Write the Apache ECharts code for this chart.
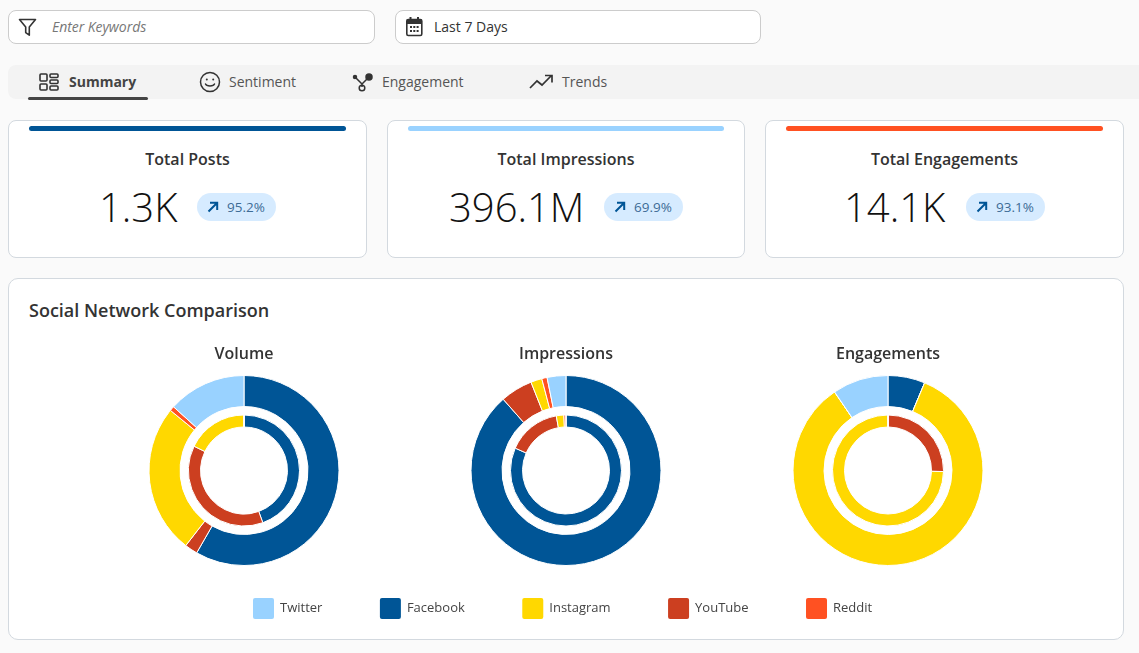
<!DOCTYPE html>
<html>
<head>
<meta charset="utf-8">
<script src="https://cdn.jsdelivr.net/npm/echarts@6/dist/echarts.min.js"></script>
<style>
  html, body { margin: 0; padding: 0; }
  body { width: 1139px; height: 653px; overflow: hidden; background: #fafafa; font-family: "Open Sans", sans-serif; color: #333; position: relative; }
  .abs { position: absolute; box-sizing: border-box; }
  .input { top: 10px; height: 34px; background: #fff; border: 1px solid #ccc; border-radius: 8px; }
  .tabs { left: 8px; top: 65px; width: 1131px; height: 34px; background: #f3f3f3; border-radius: 8px 0 0 8px; }
  .tab { top: 73px; font-size: 14px; line-height: 18px; color: #555; white-space: nowrap; }
  .card { top: 120px; height: 138px; background: #fff; border: 1px solid #d3d9df; border-radius: 8px; }
  .bar { top: 126px; height: 5px; border-radius: 3px; }
  .card-title { top: 149px; font-size: 16px; font-weight: 600; line-height: 20px; color: #333; text-align: center; white-space: nowrap; }
  .big { top: 179px; font-size: 40px; font-weight: 300; line-height: 56px; color: #111; white-space: nowrap; }
  .pill { top: 193px; height: 28px; width: 79px; background: #d6ebff; border-radius: 14px; font-size: 13.5px; line-height: 28px; color: #3d6c96; padding-left: 30px; }
  .pill svg { position: absolute; left: 9px; top: 7px; }
  .panel { left: 8px; top: 278px; width: 1116px; height: 362px; background: #fff; border: 1px solid #d3d9df; border-radius: 10px; }
  .panel-title { left: 29px; top: 298px; font-size: 18px; font-weight: 600; line-height: 25px; color: #333; }
  #chart { position: absolute; left: 0; top: 0; width: 1139px; height: 653px; }
</style>
</head>
<body>
<div class="abs input" style="left:8px;width:367px"></div>
<svg class="abs" style="left:18px;top:18px" width="20" height="19" viewBox="0 0 20 19" fill="none" stroke="#333" stroke-width="1.6" stroke-linejoin="round"><path d="M1.5 1.5h16l-6.2 7.4v8.3l-3.6-2.6V8.900z"/></svg>
<div class="abs" style="left:52px;top:18px;font-size:14px;line-height:18px;font-style:italic;color:#777;letter-spacing:-0.05px">Enter Keywords</div>
<div class="abs input" style="left:395px;width:366px"></div>
<svg class="abs" style="left:405px;top:16px" width="19" height="21" viewBox="0 0 19 21"><rect x="1.800" y="3.500" width="15" height="16" rx="1.500" fill="none" stroke="#333" stroke-width="1.600"/><rect x="1.800" y="3.500" width="15" height="4.500" fill="#333"/><rect x="4.500" y="1" width="2" height="4" fill="#333"/><rect x="12" y="1" width="2" height="4" fill="#333"/><g fill="#333"><rect x="5" y="10" width="2" height="2"/><rect x="8.300" y="10" width="2" height="2"/><rect x="11.600" y="10" width="2" height="2"/><rect x="5" y="14" width="2" height="2"/><rect x="8.300" y="14" width="2" height="2"/><rect x="11.600" y="14" width="2" height="2"/></g></svg>
<div class="abs" style="left:434px;top:18px;font-size:14px;line-height:18px;color:#333">Last 7 Days</div>

<div class="abs tabs"></div>
<svg class="abs" style="left:38px;top:72px" width="22" height="20" viewBox="0 0 22 20" fill="none" stroke="#333" stroke-width="1.600"><rect x="2" y="2" width="7" height="7" rx="1"/><rect x="2" y="12" width="7" height="6" rx="1"/><rect x="12" y="2" width="8" height="3.500" rx="1"/><rect x="12" y="8" width="8" height="3.500" rx="1"/><rect x="12" y="14" width="8" height="4" rx="1"/></svg>
<div class="abs tab" style="left:69px;font-weight:700;color:#444">Summary</div>
<div class="abs" style="left:28px;top:97px;width:120px;height:3px;background:#444;border-radius:2px"></div>
<svg class="abs" style="left:199px;top:71px" width="22" height="22" viewBox="0 0 22 22" fill="none" stroke="#333" stroke-width="1.500"><circle cx="11" cy="11" r="9.500"/><path d="M6.500 13c1 2.500 8 2.500 9 0" stroke-linecap="round"/><circle cx="7.800" cy="8.500" r="1" fill="#333" stroke="none"/><circle cx="14.200" cy="8.500" r="1" fill="#333" stroke="none"/></svg>
<div class="abs tab" style="left:229px">Sentiment</div>
<svg class="abs" style="left:352px;top:72px" width="23" height="20" viewBox="0 0 23 20" fill="none" stroke="#333" stroke-width="1.500"><path d="M3 5l7 7M17 5l-7 7M10 12v3"/><circle cx="3" cy="5" r="1.500" fill="#333"/><circle cx="17" cy="5" r="3" fill="#333"/><circle cx="10" cy="16" r="2.800"/></svg>
<div class="abs tab" style="left:382px">Engagement</div>
<svg class="abs" style="left:529px;top:73px" width="25" height="17" viewBox="0 0 25 17" fill="none" stroke="#333" stroke-width="1.700"><path d="M1 15l7-7 5 4 9-9M16 2.500h7v7"/></svg>
<div class="abs tab" style="left:562px">Trends</div>

<div class="abs card" style="left:8px;width:359px"></div>
<div class="abs bar" style="left:29px;width:317px;background:#005596"></div>
<div class="abs card-title" style="left:8px;width:359px">Total Posts</div>
<div class="abs big" style="left:99px">1.3K</div>
<div class="abs pill" style="left:197px"><svg width="14" height="14" viewBox="0 0 14 14" fill="none" stroke="#005596" stroke-width="2"><path d="M2.500 11.500L11 3M4 2.800h7.200V10"/></svg>95.2%</div>

<div class="abs card" style="left:387px;width:358px"></div>
<div class="abs bar" style="left:408px;width:316px;background:#99d2ff"></div>
<div class="abs card-title" style="left:387px;width:358px">Total Impressions</div>
<div class="abs big" style="left:449px">396.1M</div>
<div class="abs pill" style="left:604px"><svg width="14" height="14" viewBox="0 0 14 14" fill="none" stroke="#005596" stroke-width="2"><path d="M2.500 11.500L11 3M4 2.800h7.200V10"/></svg>69.9%</div>

<div class="abs card" style="left:765px;width:359px"></div>
<div class="abs bar" style="left:786px;width:317px;background:#ff5122"></div>
<div class="abs card-title" style="left:765px;width:359px">Total Engagements</div>
<div class="abs big" style="left:844px">14.1K</div>
<div class="abs pill" style="left:966px"><svg width="14" height="14" viewBox="0 0 14 14" fill="none" stroke="#005596" stroke-width="2"><path d="M2.500 11.500L11 3M4 2.800h7.200V10"/></svg>93.1%</div>

<div class="abs panel"></div>
<div class="abs panel-title">Social Network Comparison</div>
<div id="chart"></div>

<script>
// share of each ring in percent
const networks = ['Facebook', 'YouTube', 'Instagram', 'Reddit', 'Twitter'];
const legendOrder = ['Twitter', 'Facebook', 'Instagram', 'YouTube', 'Reddit'];
const networkColors = {
  Twitter: '#99d2ff',
  Facebook: '#005596',
  Instagram: '#ffd800',
  YouTube: '#cc3f20',
  Reddit: '#ff5122'
};

const chartTitles = ['Volume', 'Impressions', 'Engagements'];

const volumeOuter = [58.3, 2.2, 25.4, 0.8, 13.3];
const volumeInner = [44.5, 37.7, 17.8, 0, 0];
const impressionsOuter = [88.5, 5.5, 1.9, 0.9, 3.2];
const impressionsInner = [81.6, 15.6, 2.2, 0.6, 0];
const engagementsOuter = [6.3, 0, 84.2, 0, 9.5];
const engagementsInner = [0, 25.3, 74.7, 0, 0];

const centers = [[244, 470.5], [566, 470.5], [888, 470.5]];

// square with small corners, the built in roundRect is too round
const swatch = 'path://M3 0H20A3 3 0 0 1 23 3V20A3 3 0 0 1 20 23H3A3 3 0 0 1 0 20V3A3 3 0 0 1 3 0Z';

function ringSeries(values, center, radius) {
  return {
    type: 'pie',
    center: center,
    radius: radius,
    startAngle: 90,
    label: { show: false },
    labelLine: { show: false },
    silent: true,
    itemStyle: { borderColor: '#fff', borderWidth: 1 },
    data: networks.map((name, i) => ({
      name: name,
      value: values[i],
      itemStyle: { color: networkColors[name] }
    }))
  };
}

const chart = echarts.init(document.getElementById('chart'));

chart.setOption({
  animation: false,
  backgroundColor: 'transparent',
  title: chartTitles.map((text, i) => ({
    text: text,
    left: centers[i][0] - 5,
    top: 339,
    textAlign: 'center',
    textStyle: {
      fontFamily: 'Open Sans',
      fontSize: 16,
      fontWeight: 600,
      color: '#333',
      lineHeight: 20
    }
  })),
  legend: {
    data: legendOrder,
    left: 246,
    top: 591,
    icon: swatch,
    itemWidth: 23,
    itemHeight: 23,
    itemGap: 55.5,
    selectedMode: false,
    textStyle: {
      fontFamily: 'Open Sans',
      fontSize: 13,
      color: '#444'
    }
  },
  series: [
    ringSeries(volumeOuter, centers[0], [64, 95]),
    ringSeries(volumeInner, centers[0], [43.5, 55.5]),
    ringSeries(impressionsOuter, centers[1], [64, 95]),
    ringSeries(impressionsInner, centers[1], [43.5, 55.5]),
    ringSeries(engagementsOuter, centers[2], [64, 95]),
    ringSeries(engagementsInner, centers[2], [43.5, 55.5])
  ]
});
</script>
</body>
</html>
